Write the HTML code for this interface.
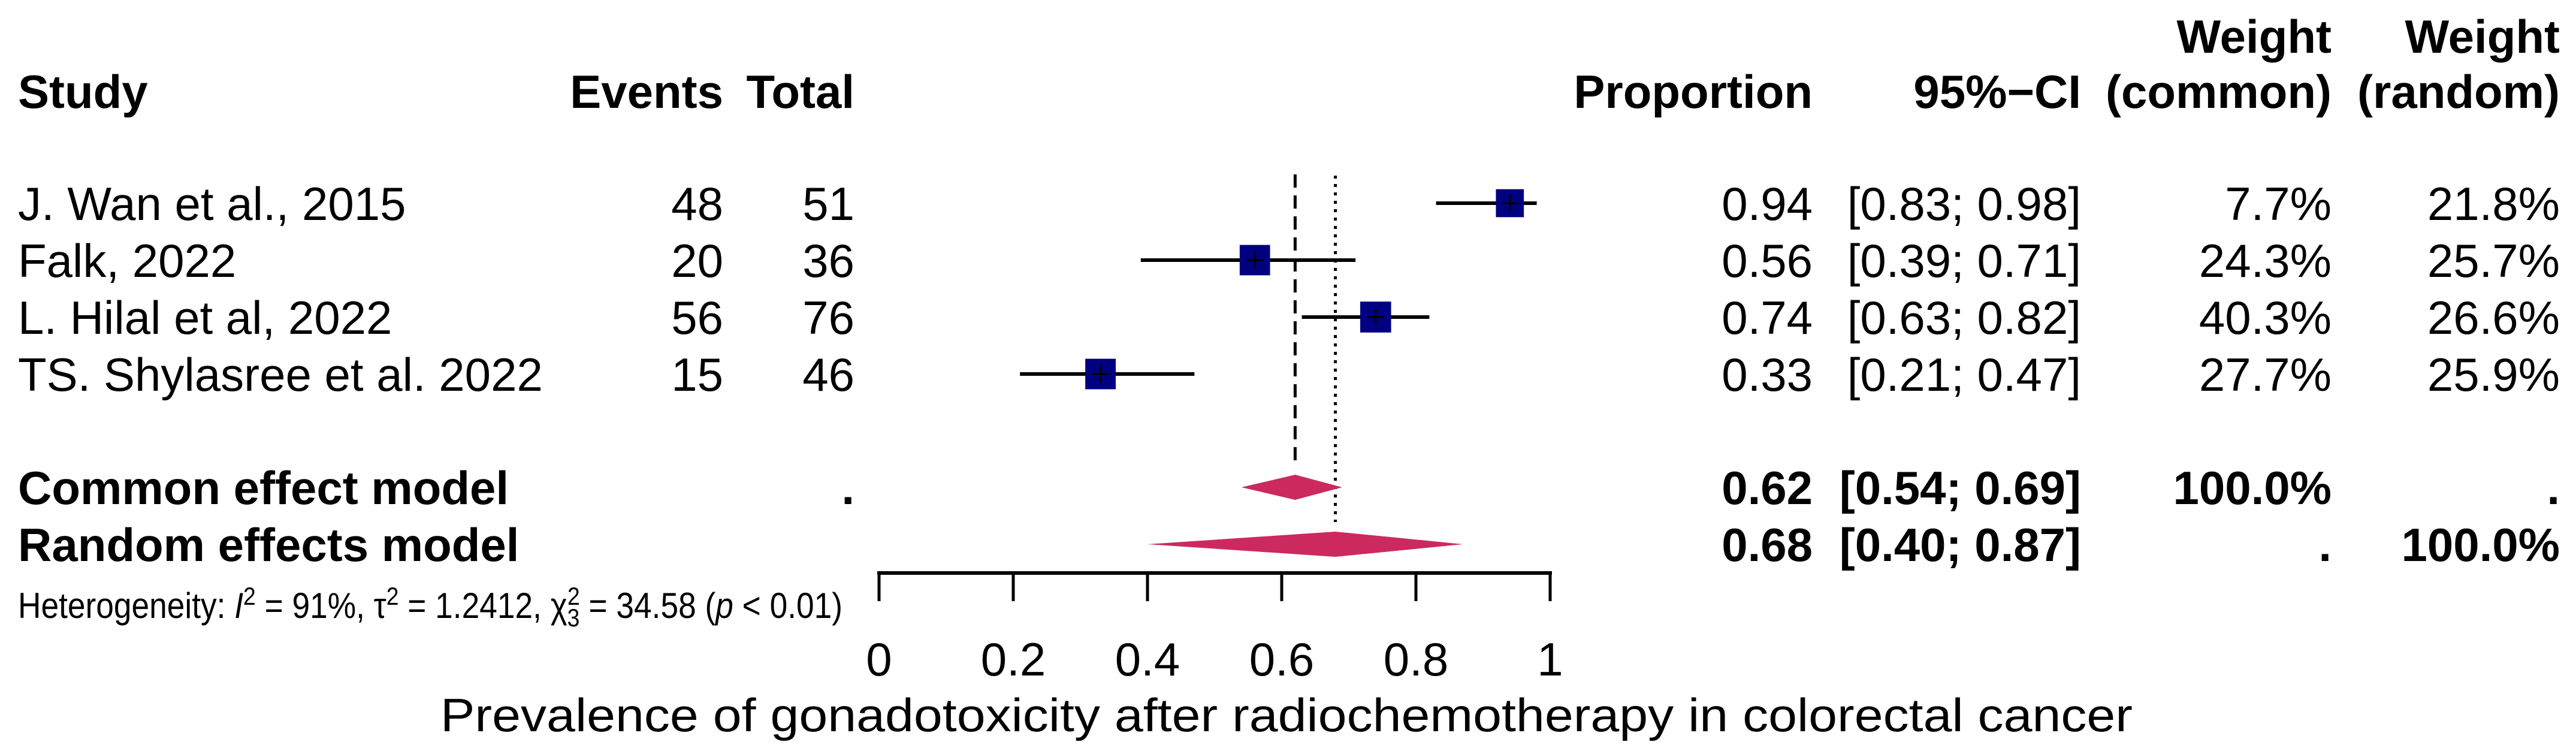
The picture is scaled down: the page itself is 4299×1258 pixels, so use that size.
<!DOCTYPE html>
<html><head><meta charset="utf-8"><style>
html,body{margin:0;padding:0;background:#fff}
svg{display:block;font-family:"Liberation Sans",Arial,sans-serif}
</style></head><body>
<svg id="chart" width="4299" height="1258" viewBox="0 0 4299 1258">
<g id="headers" font-size="78" font-weight="bold" fill="#000">
<text x="30" y="180">Study</text>
<text x="1207" y="180" text-anchor="end">Events</text>
<text x="1426" y="180" text-anchor="end">Total</text>
<text x="3025" y="180" text-anchor="end">Proportion</text>
<text x="3473" y="180" text-anchor="end">95%−CI</text>
<text x="3891" y="88" text-anchor="end">Weight</text>
<text x="3891" y="180" text-anchor="end">(common)</text>
<text x="4272" y="88" text-anchor="end">Weight</text>
<text x="4272" y="180" text-anchor="end">(random)</text>
</g>
<g id="rows"></g>
<g id="plot"></g>
<text x="30" y="1031" font-size="60" textLength="1376" lengthAdjust="spacingAndGlyphs">Heterogeneity: <tspan font-style="italic">I</tspan><tspan dy="-22" font-size="42">2</tspan><tspan dy="22"> = 91%, τ</tspan><tspan dy="-22" font-size="42">2</tspan><tspan dy="22"> = 1.2412, χ</tspan><tspan dy="14" font-size="42">3</tspan><tspan dy="-36" dx="-23" font-size="42">2</tspan><tspan dy="22"> = 34.58 (</tspan><tspan font-style="italic">p</tspan> &lt; 0.01)</text>
<text x="2147" y="1220" font-size="78" text-anchor="middle" textLength="2824" lengthAdjust="spacingAndGlyphs">Prevalence of gonadotoxicity after radiochemotherapy in colorectal cancer</text>
</svg>
<script>
const studies = ["J. Wan et al., 2015","Falk, 2022","L. Hilal et al, 2022","TS. Shylasree et al. 2022"];
const events = [48,20,56,15];
const totals = [51,36,76,46];
const props = [0.94,0.56,0.74,0.33];
const lowers = [0.83,0.39,0.63,0.21];
const uppers = [0.98,0.71,0.82,0.47];
const wCommon = ["7.7%","24.3%","40.3%","27.7%"];
const wRandom = [21.8,25.7,26.6,25.9];
const summaryNames = ["Common effect model","Random effects model"];
const summaryEst = [0.62,0.68];
const summaryLo = [0.54,0.40];
const summaryHi = [0.69,0.87];
const summaryWC = ["100.0%","."];
const summaryWR = [".","100.0%"];
const ticks = [0,0.2,0.4,0.6,0.8,1];
const tickLabels = ["0","0.2","0.4","0.6","0.8","1"];

const NS="http://www.w3.org/2000/svg";
const FS=78;
const xs = v => 1467 + 1120*v;
const rowY = i => 339 + 95*i;
const sumY = i => 813 + 95*i;
const f2 = v => v.toFixed(2);
function mk(tag, attrs, parent){const e=document.createElementNS(NS,tag);for(const k in attrs)e.setAttribute(k,attrs[k]);parent.appendChild(e);return e;}
const rows=document.getElementById('rows'), plot=document.getElementById('plot');
function txt(x,y,s,anchor,bold,parent){const t=mk('text',{x:x,y:y,'font-size':FS,'text-anchor':anchor},parent);if(bold)t.setAttribute('font-weight','bold');t.textContent=s;return t;}

let l=mk('line',{x1:xs(summaryEst[0]),x2:xs(summaryEst[0]),y1:291,y2:778,stroke:'#000','stroke-width':5,'stroke-dasharray':'22 13'},plot);


l=mk('line',{x1:xs(summaryEst[1]),x2:xs(summaryEst[1]),y1:293,y2:871,stroke:'#000','stroke-width':5,'stroke-dasharray':'5 9'},plot);



studies.forEach((s,i)=>{
  const y=rowY(i), b=y+28;
  let t=txt(30,b,s,'start',false,rows);
  
  
  t=txt(1207,b,String(events[i]),'end',false,rows);
  
  
  t=txt(1426,b,String(totals[i]),'end',false,rows);
  
  
  t=txt(3025,b,f2(props[i]),'end',false,rows);
  
  
  t=txt(3473,b,'['+f2(lowers[i])+'; '+f2(uppers[i])+']','end',false,rows);
  
  
  t=txt(3891,b,wCommon[i],'end',false,rows);
  
  
  t=txt(4272,b,wRandom[i].toFixed(1)+'%','end',false,rows);
  
  
  const ci=mk('line',{x1:xs(lowers[i]),x2:xs(uppers[i]),y1:y,y2:y,stroke:'#000','stroke-width':6},plot);
  
  
  const sz=Math.sqrt(wRandom[i])*10;
  const sq=mk('rect',{x:xs(props[i])-sz/2,y:y-sz/2,width:sz,height:sz,fill:'#000080'},plot);
  
  
  const pl=mk('path',{d:`M${xs(props[i])-14},${y}H${xs(props[i])+14}M${xs(props[i])},${y-14}V${y+14}`,stroke:'#000','stroke-width':3},plot);
  
  
});

summaryNames.forEach((s,i)=>{
  const y=sumY(i), b=y+28;
  let t=txt(30,b,s,'start',true,rows);
  
  
  if(i===0){t=txt(1426,b,'.','end',true,rows);
  
  }
  t=txt(3025,b,f2(summaryEst[i]),'end',true,rows);
  
  
  t=txt(3473,b,'['+f2(summaryLo[i])+'; '+f2(summaryHi[i])+']','end',true,rows);
  
  
  t=txt(3891,b,summaryWC[i],'end',true,rows);
  
  
  t=txt(4272,b,summaryWR[i],'end',true,rows);
  
  
  const d=mk('polygon',{points:`${xs(summaryLo[i])},${y} ${xs(summaryEst[i])},${y-21} ${xs(summaryHi[i])},${y} ${xs(summaryEst[i])},${y+21}`,fill:'#CC2A5E'},plot);
  
  
});

const ax=mk('line',{x1:xs(0)-3,x2:xs(1)+3,y1:956,y2:956,stroke:'#000','stroke-width':6},plot);


ticks.forEach((v,i)=>{
  const tk=mk('line',{x1:xs(v),x2:xs(v),y1:956,y2:1003,stroke:'#000','stroke-width':5},plot);
  
  
  const t=txt(xs(v),1127,tickLabels[i],'middle',false,plot);
  
  
});
</script>
</body></html>
